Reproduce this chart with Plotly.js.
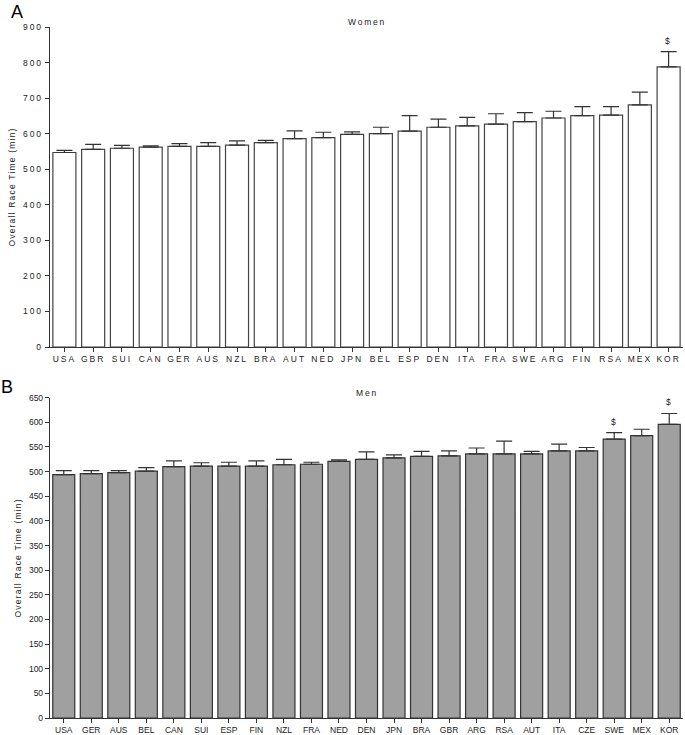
<!DOCTYPE html>
<html>
<head>
<meta charset="utf-8">
<script src="https://cdn.plot.ly/plotly-3.0.1.min.js"></script>
<style>
  html, body { margin: 0; padding: 0; background: #fff; }
  #chart { width: 685px; height: 735px; }
  .xtick text, .ytick text { letter-spacing: 2px; }
  .g-ytitle text, .g-y2title text { letter-spacing: 1.2px; }
  .annotation-text { letter-spacing: 1.8px; }
</style>
</head>
<body>
<div id="chart"></div>
<script>
// Women (panel A)
const womenCountries = ['USA','GBR','SUI','CAN','GER','AUS','NZL','BRA','AUT','NED','JPN','BEL','ESP','DEN','ITA','FRA','SWE','ARG','FIN','RSA','MEX','KOR'];
const womenMean = [547, 556, 559, 562, 564, 564, 568, 575, 586, 589, 598, 600, 607, 618, 622, 627, 634, 644, 651, 652, 681, 788];
const womenErr  = [6, 14, 8, 4, 8, 11, 12, 6, 22, 15, 7, 18, 44, 23, 24, 29, 25, 19, 25, 24, 36, 43];
const womenSig  = ['KOR'];

// Men (panel B)
const menCountries = ['USA','GER','AUS','BEL','CAN','SUI','ESP','FIN','NZL','FRA','NED','DEN','JPN','BRA','GBR','ARG','RSA','AUT','ITA','CZE','SWE','MEX','KOR'];
const menMean = [494, 496, 498, 501, 510, 511, 511, 511, 514, 515, 521, 525, 528, 531, 532, 536, 536, 536, 542, 542, 566, 573, 596];
const menErr  = [8, 6, 4, 7, 12, 7, 8, 11, 11, 4, 3, 15, 6, 10, 10, 12, 26, 5, 14, 7, 13, 13, 22];
const menSig  = ['SWE','KOR'];

const womenTicks = [0,100,200,300,400,500,600,700,800,900];
const menTicks = [0,50,100,150,200,250,300,350,400,450,500,550,600,650];

const axisColor = '#333';
const textColor = '#222';
const fontFam = 'Liberation Sans, Arial, sans-serif';
const tickFont = {family: fontFam, size: 8.5, color: textColor};

const traces = [
  {
    type: 'bar', x: womenCountries, y: womenMean, xaxis: 'x', yaxis: 'y',
    marker: {color: '#ffffff', line: {color: '#444', width: 1.2}},
    error_y: {type: 'data', symmetric: false, array: womenErr, arrayminus: womenErr.map(() => 0),
              color: '#333', thickness: 1.2, width: 8},
    hoverinfo: 'x+y'
  },
  {
    type: 'bar', x: menCountries, y: menMean, xaxis: 'x2', yaxis: 'y2',
    marker: {color: '#a0a0a0', line: {color: '#333', width: 1.2}},
    error_y: {type: 'data', symmetric: false, array: menErr, arrayminus: menErr.map(() => 0),
              color: '#333', thickness: 1.2, width: 8},
    hoverinfo: 'x+y'
  }
];

const annotations = [];
womenCountries.forEach((c, i) => {
  if (womenSig.includes(c)) {
    annotations.push({x: c, y: womenMean[i] + womenErr[i], xref: 'x', yref: 'y', text: '$',
      showarrow: false, yanchor: 'middle', yshift: 11, font: {family: fontFam, size: 8.5, color: textColor}});
  }
});
menCountries.forEach((c, i) => {
  if (menSig.includes(c)) {
    annotations.push({x: c, y: menMean[i] + menErr[i], xref: 'x2', yref: 'y2', text: '$',
      showarrow: false, yanchor: 'middle', yshift: 11, font: {family: fontFam, size: 8.5, color: textColor}});
  }
});
annotations.push(
  {text: 'Women', xref: 'x domain', yref: 'y domain', x: 0.5, y: 1, yshift: 5, showarrow: false,
   xanchor: 'center', yanchor: 'middle', font: {family: fontFam, size: 8.5, color: textColor}},
  {text: 'Men', xref: 'x2 domain', yref: 'y2 domain', x: 0.5, y: 1, yshift: 5, showarrow: false,
   xanchor: 'center', yanchor: 'middle', font: {family: fontFam, size: 8.5, color: textColor}},
  {text: 'A', xref: 'paper', yref: 'paper', x: 0, y: 1, xshift: -32, yshift: 15, showarrow: false,
   xanchor: 'center', yanchor: 'middle', font: {family: fontFam, size: 18, color: '#000'}},
  {text: 'B', xref: 'paper', yref: 'paper', x: 0, y: 0.4635, xshift: -42, yshift: 11, showarrow: false,
   xanchor: 'center', yanchor: 'middle', font: {family: fontFam, size: 18, color: '#000'}}
);

const xCommon = {
  type: 'category', showline: true, linecolor: axisColor, linewidth: 1.2,
  ticks: 'outside', ticklen: 4, tickcolor: axisColor, tickwidth: 1,
  tickfont: tickFont, showgrid: false, zeroline: false, fixedrange: true
};
const yCommon = {
  showline: true, linecolor: axisColor, linewidth: 1.2,
  ticks: 'outside', ticklen: 4, tickcolor: axisColor, tickwidth: 1,
  tickfont: tickFont, showgrid: false, zeroline: false, fixedrange: true,
  title: {text: 'Overall Race Time (min)', font: {family: fontFam, size: 8.5, color: textColor}, standoff: 6}
};

const layout = {
  width: 685, height: 735,
  margin: {l: 50, r: 2, t: 27, b: 17},
  paper_bgcolor: '#fff', plot_bgcolor: '#fff',
  showlegend: false, bargap: 0.2,
  xaxis: Object.assign({}, xCommon, {anchor: 'y', domain: [0, 1]}),
  yaxis: Object.assign({}, yCommon, {anchor: 'x', domain: [0.5369, 1], range: [0, 900], tickvals: womenTicks}),
  xaxis2: Object.assign({}, xCommon, {anchor: 'y2', domain: [0, 1]}),
  yaxis2: Object.assign({}, yCommon, {anchor: 'x2', domain: [0, 0.4635], range: [0, 650], tickvals: menTicks}),
  annotations: annotations
};

Plotly.newPlot('chart', traces, layout, {displayModeBar: false, staticPlot: true});
</script>
</body>
</html>
